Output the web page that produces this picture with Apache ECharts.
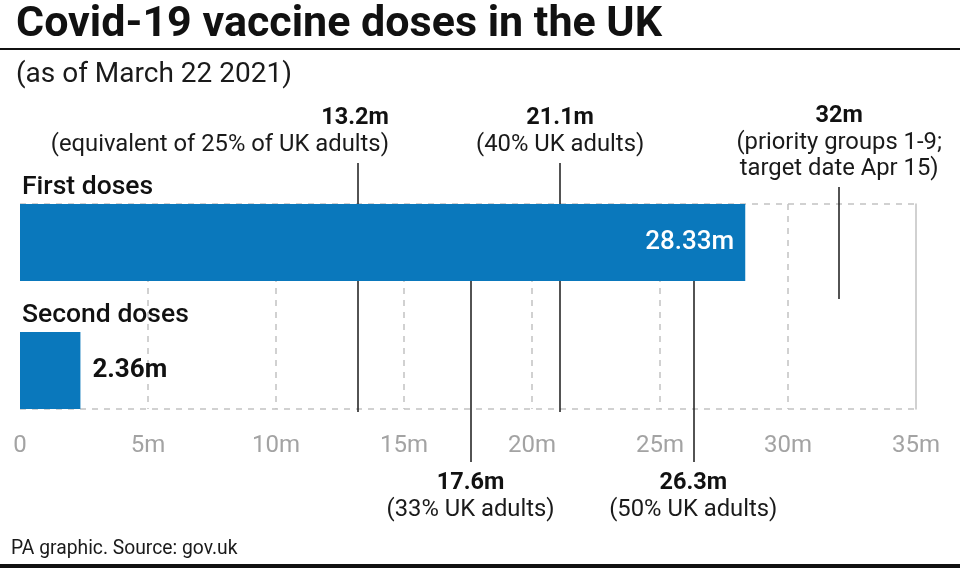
<!DOCTYPE html>
<html>
<head>
<meta charset="utf-8">
<title>Covid-19 vaccine doses in the UK</title>
<script src="https://cdn.jsdelivr.net/npm/echarts@6/dist/echarts.min.js"></script>
<style>
  html, body { margin: 0; padding: 0; background: #fff; }
  #chart { width: 960px; height: 568px; }
</style>
</head>
<body>
<div id="chart"></div>
<script>
// doses given (millions)
var doseTypes = ['First doses', 'Second doses'];
var doseValues = [28.33, 2.36];
var doseLabels = ['28.33m', '2.36m'];

// x axis ticks
var tickLabels = ['0', '5m', '10m', '15m', '20m', '25m', '30m', '35m'];

// target markers (millions)
var targetValues = [13.2, 21.1, 32, 17.6, 26.3];
var targetTitles = ['13.2m', '21.1m', '32m', '17.6m', '26.3m'];
var targetNotes = [
    '(equivalent of 25% of UK adults)',
    '(40% UK adults)',
    '(priority groups 1-9;\ntarget date Apr 15)',
    '(33% UK adults)',
    '(50% UK adults)'
];

// where each marker line runs on the overlay (page pixels) and where its text sits
var markerLayout = [
    {from: 163, to: 412, side: 'top', dx: 31, gap: 5},
    {from: 163, to: 412, side: 'top', dx: 0, gap: 5},
    {from: 187, to: 299, side: 'top', dx: 0, gap: 5},
    {from: 204, to: 462, side: 'bottom', dx: 0, gap: 8},
    {from: 204, to: 462, side: 'bottom', dx: 0, gap: 8}
];
var doseLabelStyle = [
    {position: 'insideRight', distance: 11, color: '#ffffff'},
    {position: 'right', distance: 12, color: '#111111', fontWeight: 'bold'}
];

var FONT = 'Roboto';
var BLUE = '#0a78bc';
var GRID_GREY = '#c2c2c2';

var myChart = echarts.init(document.getElementById('chart'));

var splitColors = tickLabels.map(function (t, i) {
    return (i === 0 || i === tickLabels.length - 1) ? 'rgba(0,0,0,0)' : GRID_GREY;
});

var option = {
    animation: false,
    textStyle: {fontFamily: FONT},
    title: [
        {
            text: 'Covid-19 vaccine doses in the UK',
            left: 16, top: 1, padding: 0,
            textStyle: {fontFamily: FONT, fontSize: 43, fontWeight: 'bold', color: '#111', lineHeight: 48}
        },
        {
            text: '(as of March 22 2021)',
            left: 16, top: 59, padding: 0,
            textStyle: {fontFamily: FONT, fontSize: 28, fontWeight: 'normal', color: '#1a1a1a', lineHeight: 32}
        },
        {
            text: 'PA graphic. Source: gov.uk',
            left: 11, top: 537, padding: 0,
            textStyle: {fontFamily: FONT, fontSize: 19.3, fontWeight: 'normal', color: '#1a1a1a', lineHeight: 24}
        }
    ],
    graphic: [
        {type: 'rect', shape: {x: 0, y: 48, width: 960, height: 2}, style: {fill: '#111'}},
        {type: 'rect', shape: {x: 0, y: 564, width: 960, height: 4}, style: {fill: '#111'}}
    ],
    grid: [
        {left: 20, right: 44, top: 204, height: 205},     // dashed box
        {left: 20, right: 44, top: 178.5, height: 256},   // bars
        {left: 20, right: 44, top: 0, height: 568}        // marker overlay
    ],
    xAxis: [
        {
            gridIndex: 0, type: 'value', min: 0, max: 35, interval: 5,
            axisLine: {show: false}, axisTick: {show: false},
            splitLine: {show: true, lineStyle: {type: [6, 6], color: splitColors, width: 1.5}},
            axisLabel: {
                margin: 25, color: '#a3a3a3', fontSize: 24, fontFamily: FONT,
                formatter: function (v) { return tickLabels[Math.round(v / 5)]; }
            }
        },
        {gridIndex: 1, type: 'value', min: 0, max: 35, show: false},
        {gridIndex: 2, type: 'value', min: 0, max: 35, show: false}
    ],
    yAxis: [
        {
            gridIndex: 0, type: 'value', min: 0, max: 1, interval: 1, position: 'right',
            axisLine: {show: true, onZero: false, lineStyle: {color: GRID_GREY, width: 1.5}},
            axisTick: {show: false}, axisLabel: {show: false},
            splitLine: {show: true, lineStyle: {type: [6, 6], color: GRID_GREY, width: 1.5}}
        },
        {gridIndex: 1, type: 'category', data: doseTypes, inverse: true, show: false},
        {gridIndex: 2, type: 'value', min: 0, max: 568, inverse: true, show: false}
    ],
    series: [
        {
            type: 'bar', xAxisIndex: 1, yAxisIndex: 1, z: 3,
            barWidth: 77,
            itemStyle: {color: BLUE},
            data: doseValues.map(function (v, i) {
                var s = doseLabelStyle[i];
                return {
                    value: v,
                    label: {
                        show: true, position: s.position, distance: s.distance,
                        color: s.color, fontSize: 26, fontWeight: s.fontWeight || 500, fontFamily: FONT,
                        formatter: doseLabels[i]
                    }
                };
            })
        },
        {
            // category names sitting above each bar
            type: 'bar', xAxisIndex: 1, yAxisIndex: 1, z: 3, silent: true,
            barWidth: 77, barGap: '-100%',
            itemStyle: {color: 'rgba(0,0,0,0)'},
            label: {
                show: true, position: [2, -3], align: 'left', verticalAlign: 'bottom',
                fontSize: 26.5, fontWeight: 500, color: '#111', fontFamily: FONT,
                formatter: '{b}'
            },
            data: doseValues
        },
        {
            type: 'scatter', xAxisIndex: 2, yAxisIndex: 2, z: 1, silent: true,
            symbolSize: 0,
            itemStyle: {opacity: 1},
            data: targetValues.map(function (v, i) {
                var L = markerLayout[i];
                var lines = targetNotes[i].split('\n').map(function (t) { return '{n|' + t + '}'; });
                return {
                    value: [v, L.side === 'top' ? L.from : L.to],
                    label: {
                        show: true, position: L.side, distance: L.gap,
                        align: L.dx ? 'right' : 'center', offset: [L.dx, 0],
                        formatter: ['{b|' + targetTitles[i] + '}'].concat(lines).join('\n'),
                        rich: {
                            b: {fontSize: 23.5, fontWeight: 'bold', color: '#111', lineHeight: 27, fontFamily: FONT},
                            n: {fontSize: 23.8, color: '#1a1a1a', lineHeight: 26, fontFamily: FONT}
                        }
                    }
                };
            }),
            markLine: {
                silent: true, symbol: ['none', 'none'], animation: false, z: 1,
                label: {show: false},
                lineStyle: {color: '#1a1a1a', width: 1.5, type: 'solid', opacity: 1},
                data: targetValues.map(function (v, i) {
                    var L = markerLayout[i];
                    return [{coord: [v, L.from]}, {coord: [v, L.to]}];
                })
            }
        }
    ]
};

myChart.setOption(option);
</script>
</body>
</html>
